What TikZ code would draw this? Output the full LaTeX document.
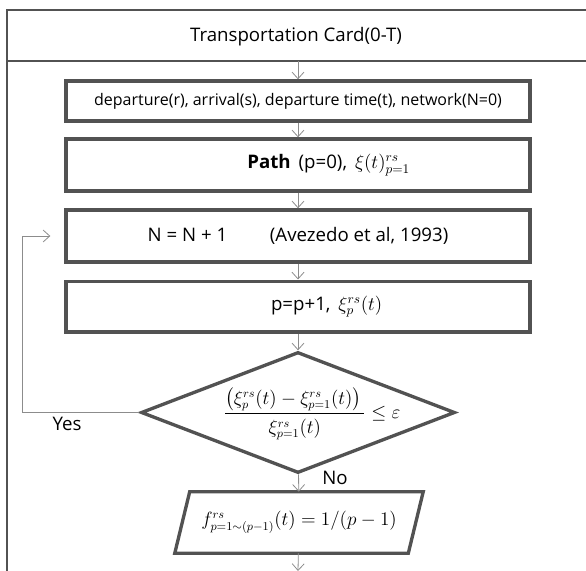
\documentclass[tikz,border=0pt]{standalone}
\usepackage{amsmath}
\usepackage{fontspec}
\setmainfont{Open Sans}
\usetikzlibrary{arrows.meta, shapes.geometric}

\begin{document}
\begin{tikzpicture}[x=0.75pt, y=-0.75pt, font=\fontsize{14}{16}\selectfont,
  frame/.style={draw=black!68, line width=2.2pt},
  box/.style={draw=black!68, line width=2.5pt, minimum width=348pt, inner sep=0pt},
  conn/.style={draw=black!45, line width=0.6pt, -{Straight Barb[length=5pt, width=9pt]}},
  lab/.style={font=\fontsize{14}{16}\selectfont}]
\useasboundingbox (0,0) rectangle (586,571);
% outer card
\draw[frame] (600,10) -- (7,10) -- (7,590);
\draw[frame] (7,61) -- (600,61);
\node (title) at (296,37) {Transportation Card(0-T)};
\coordinate (band) at (298,61);
% steps
\node[box, minimum height=30pt, font=\fontsize{12}{14}\selectfont] (input) at (298,101) {departure(r), arrival(s), departure time(t), network(N=0)};
\node[box, minimum height=39pt] (path) at (298,165) {\hspace*{46pt}\textbf{Path}\, (p=0),\, $\xi(t)^{rs}_{p=1}$};
\node[box, minimum height=39pt] (count) at (298,236) {N = N + 1\hspace{32pt}(Avezedo et al, 1993)};
\node[box, minimum height=38pt] (incr) at (298,306.5) {\hspace*{43pt}p=p+1,\, $\xi^{rs}_{p}(t)$};
\node[diamond, draw=black!68, line width=2.5pt, minimum width=235.5pt, minimum height=90.75pt, aspect=2.6, inner sep=0pt] (test) at (298,412.5) {};
\node[font=\fontsize{13.5}{15}\selectfont] (rule) at (312,414) {$\dfrac{\left(\xi^{rs}_{p}(t)-\xi^{rs}_{p=1}(t)\right)\rule[-4pt]{0pt}{4pt}}{\rule{0pt}{13pt}\xi^{rs}_{p=1}(t)}\le\varepsilon$};
\node[minimum width=174.75pt, minimum height=45.75pt, inner sep=0pt, font=\fontsize{13.5}{16}\selectfont] (share) at (299,522.5) {$f^{rs}_{p=1\sim(p-1)}(t)=1/(p-1)$};
\draw[draw=black!68, line width=2.5pt] ([xshift=5.6pt]share.north west) -- ([xshift=5.6pt]share.north east) -- ([xshift=-5.6pt]share.south east) -- ([xshift=-5.6pt]share.south west) -- cycle;
\coordinate (exit) at (298,571);
% connectors
\foreach \a/\b in {band/input, input/path, path/count, count/incr, incr/test, test/share, share/exit}
  \draw[conn] (\a) -- (\b);
\draw[conn, shorten >=10.5pt] (test.west) -- ++(-117,0) |- (count.west);
\node[lab] (yes) at (67,424) {Yes};
\node[lab] (no) at (335,478) {No};
\end{tikzpicture}
\end{document}
